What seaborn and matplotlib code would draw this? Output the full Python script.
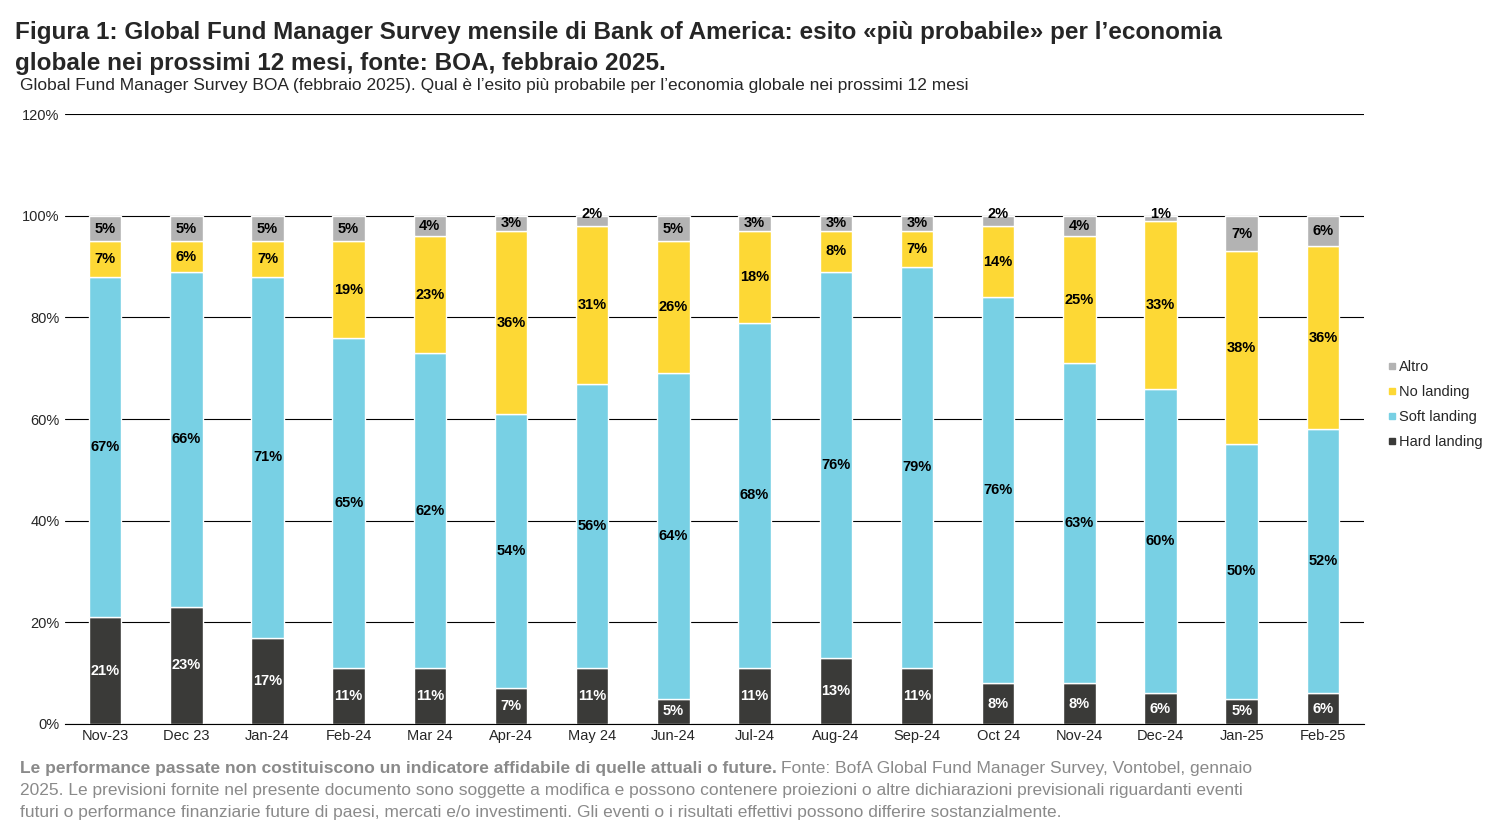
import matplotlib
matplotlib.use("Agg")
import matplotlib.pyplot as plt
import seaborn as sns
import pandas as pd
from matplotlib.lines import Line2D

months = ["Nov-23","Dec 23","Jan-24","Feb-24","Mar 24","Apr-24","May 24","Jun-24","Jul-24","Aug-24","Sep-24","Oct 24","Nov-24","Dec-24","Jan-25","Feb-25"]
hard = [21,23,17,11,11,7,11,5,11,13,11,8,8,6,5,6]
soft = [67,66,71,65,62,54,56,64,68,76,79,76,63,60,50,52]
nolanding = [7,6,7,19,23,36,31,26,18,8,7,14,25,33,38,36]
altro = [5,5,5,5,4,3,2,5,3,3,3,2,4,1,7,6]

series = [("Hard landing", hard, "#3a3a38", "white"),
          ("Soft landing", soft, "#78d0e4", "black"),
          ("No landing", nolanding, "#fdd835", "black"),
          ("Altro", altro, "#b3b3b3", "black")]

sns.set_style("white")
plt.rcParams['font.family'] = ['Liberation Sans', 'DejaVu Sans']

fig = plt.figure(figsize=(15, 8.34), dpi=100)
ax = fig.add_axes([0.043, 0.132, 0.866, 0.731])

bottom = [0]*len(months)
for name, vals, col, tc in series:
    df = pd.DataFrame({"m": months, "v": vals})
    sns.barplot(data=df, x="m", y="v", color=col, bottom=bottom, width=0.4, ax=ax, saturation=1)
    for i, (b, v) in enumerate(zip(bottom, vals)):
        y = b + v/2
        if v <= 2:
            y = b + v + 0.3
        ax.text(i, y, f"{v}%", ha="center", va="center", fontsize=10.5, fontweight="bold", color=tc if v > 2 else "black")
    bottom = [b+v for b, v in zip(bottom, vals)]
if ax.get_legend() is not None:
    ax.get_legend().remove()

ax.set_ylim(0, 120)
ax.set_xlim(-0.5, 15.5)
ax.set_yticks(range(0, 121, 20))
ax.set_yticklabels([f"{t}%" for t in range(0, 121, 20)], fontsize=10.5)
ax.tick_params(axis='x', labelsize=10.5, length=0)
ax.tick_params(axis='y', length=0)
ax.set_xlabel(""); ax.set_ylabel("")
ax.yaxis.grid(True, color="black", linewidth=0.8)
ax.set_axisbelow(True)
for s in ["top", "right", "left"]:
    ax.spines[s].set_visible(False)
ax.spines["bottom"].set_color("black")

handles = [Line2D([], [], marker='s', ls='', color=c, markersize=5) for _, _, c, _ in series[::-1]]
labels = [n for n, _, _, _ in series[::-1]]
fig.legend(handles, labels, loc="center left", bbox_to_anchor=(0.918, 0.515), frameon=False, fontsize=10.5,
           handletextpad=0.0, labelspacing=0.75, borderpad=0, handlelength=1.0)

fig.text(0.01, 0.975, "Figura 1: Global Fund Manager Survey mensile di Bank of America: esito «più probabile» per l’economia\nglobale nei prossimi 12 mesi, fonte: BOA, febbraio 2025.",
         ha="left", va="top", fontsize=17.5, fontweight="bold", linespacing=1.45)
fig.text(0.013, 0.898, "Global Fund Manager Survey BOA (febbraio 2025). Qual è l’esito più probabile per l’economia globale nei prossimi 12 mesi",
         ha="left", va="center", fontsize=12.5)
t1 = fig.text(0.013, 0.078, "Le performance passate non costituiscono un indicatore affidabile di quelle attuali o future.",
              ha="left", va="center", fontsize=12.5, color="#8a8a8a", fontweight="bold")
fig.canvas.draw()
bb = t1.get_window_extent().transformed(fig.transFigure.inverted())
fig.text(bb.x1 + 0.003, 0.078, "Fonte: BofA Global Fund Manager Survey, Vontobel, gennaio",
         ha="left", va="center", fontsize=12.5, color="#8a8a8a")
fig.text(0.013, 0.052, "2025. Le previsioni fornite nel presente documento sono soggette a modifica e possono contenere proiezioni o altre dichiarazioni previsionali riguardanti eventi",
         ha="left", va="center", fontsize=12.5, color="#8a8a8a")
fig.text(0.013, 0.026, "futuri o performance finanziarie future di paesi, mercati e/o investimenti. Gli eventi o i risultati effettivi possono differire sostanzialmente.",
         ha="left", va="center", fontsize=12.5, color="#8a8a8a")

fig.savefig("out.png", dpi=100)
